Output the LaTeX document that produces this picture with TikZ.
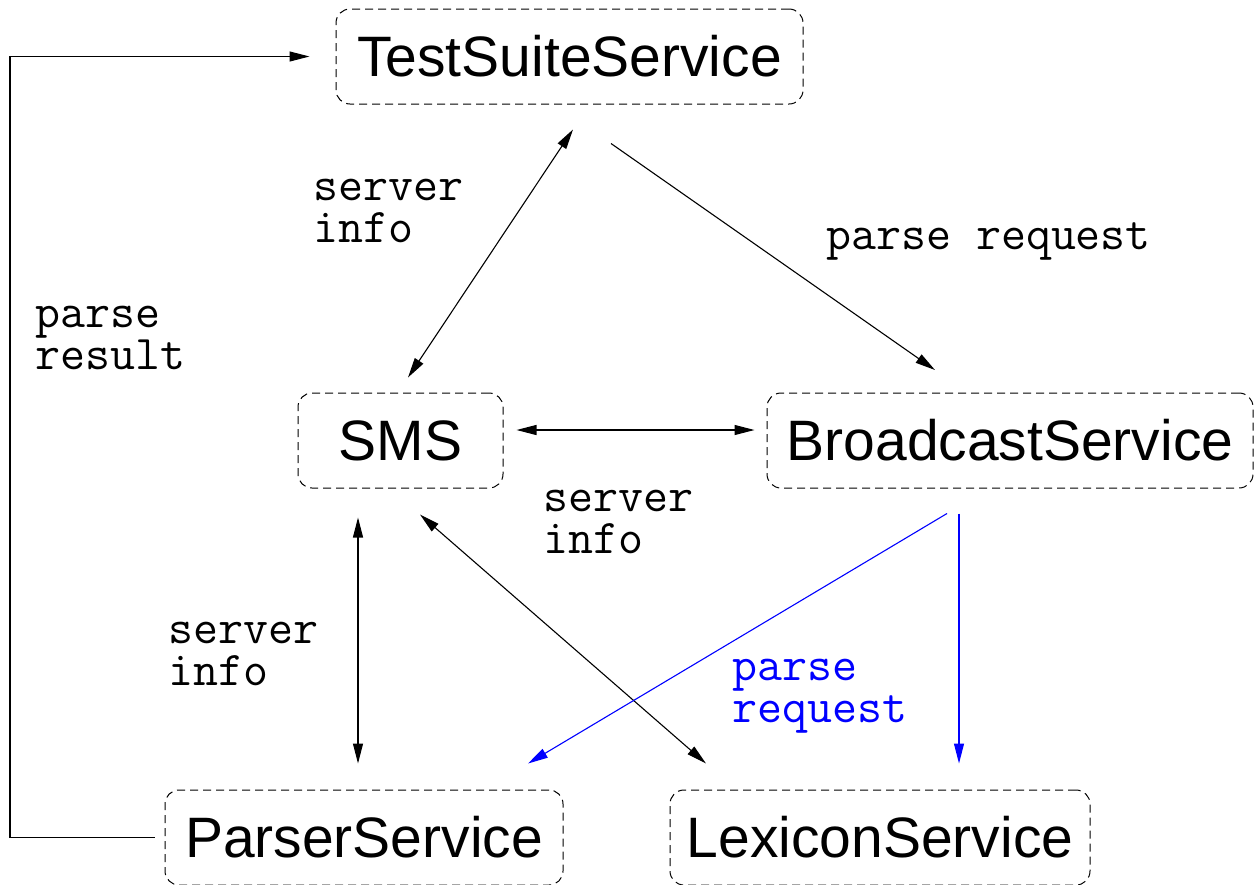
\documentclass[tikz,border=0pt]{standalone}
\usepackage{fontspec}
\setmainfont{Liberation Sans}
\usetikzlibrary{arrows.meta,calc}
\begin{document}
\begin{tikzpicture}[x=1pt,y=-1pt,
  svc/.style={draw, dashed, dash pattern=on 8pt off 5pt, line width=1pt, rounded corners=14pt,
     minimum height=95pt, inner sep=0pt, font=\fontsize{57}{60}\selectfont},
  arr/.style={line width=1.1pt, -{Triangle[length=20pt,width=10pt]}},
  barr/.style={line width=1.1pt, {Triangle[length=20pt,width=10pt]}-{Triangle[length=20pt,width=10pt]}},
  lab/.style={anchor=base west, inner sep=0pt, align=left, font=\ttfamily\fontsize{48.5}{41.5}\selectfont}
]
\useasboundingbox (0,0) rectangle (1258,884);

\node[svc, minimum width=467pt] (tss) at (569.5,56.5) {TestSuiteService};
\node[svc, minimum width=205pt] (sms) at (400.5,440.5) {SMS};
\node[svc, minimum width=486pt] (bc) at (1010,440.5) {BroadcastService};
\node[svc, minimum width=398pt] (parser) at (364,837.5) {ParserService};
\node[svc, minimum width=420pt] (lex) at (880,837.5) {LexiconService};

\coordinate (lft) at (10,450);

% left loop
\draw[arr] ($(parser.west)+(-10,0)$) -| (lft) |- ($(tss.west)+(-26,0)$);
% TSS <-> SMS
\draw[barr] ($(tss.south)+(3.5,25)$) -- ($(sms.north)+(7.5,-15)$);
% TSS -> Broadcast
\draw[arr] ($(tss.south)+(41.5,39)$) -- ($(bc.north)+(-75,-22.5)$);
% SMS <-> Broadcast
\draw[barr] ($(sms.east)+(13,-10.5)$) -- ($(bc.west)+(-12,-10.5)$);
% SMS <-> Parser
\draw[barr] ($(sms.south)+(-42.5,29)$) -- ($(parser.north)+(-6,-26)$);
% SMS <-> Lexicon
\draw[barr] ($(sms.south)+(19.5,26)$) -- ($(lex.north)+(-174,-26)$);
% Broadcast -> Parser, Lexicon (blue)
\draw[arr, blue] ($(bc.south)+(-63,25)$) -- ($(parser.north)+(164,-26)$);
\draw[arr, blue] ($(bc.south)+(-51,25)$) -- ($(lex.north)+(79,-26)$);

% labels (anchor = baseline of the last line)
\node[lab] (l1) at (313,242) {server\\info};
\node[lab] (l2) at (826,249) {parse request};
\node[lab] (l3) at (35,369) {parse\\result};
\node[lab] (l4) at (543,553) {server\\info};
\node[lab] (l5) at (168,685) {server\\info};
\node[lab, text=blue] (l6) at (732,722) {parse\\request};
\end{tikzpicture}
\end{document}
